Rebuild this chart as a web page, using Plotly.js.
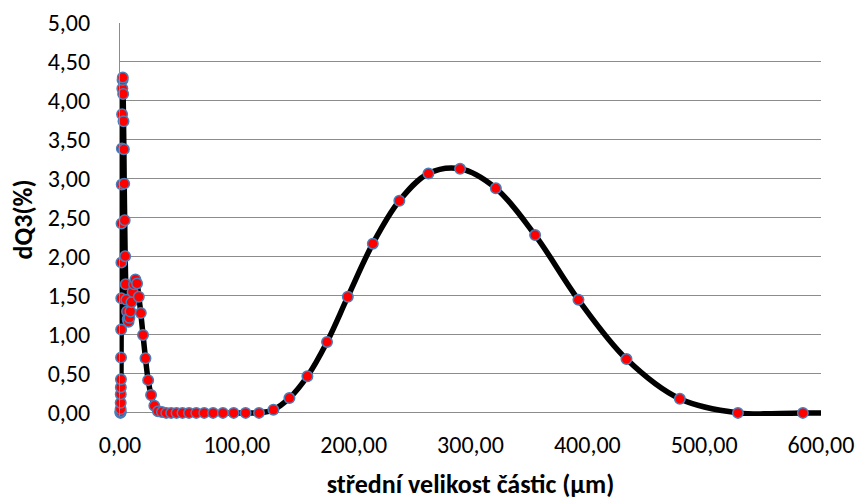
<!DOCTYPE html>
<html>
<head>
<meta charset="utf-8">
<script src="https://cdn.plot.ly/plotly-3.0.1.min.js"></script>
<style>
  html, body { margin: 0; padding: 0; background: #ffffff; }
  #chart { width: 862px; height: 504px; }
</style>
</head>
<body>
<div id="chart"></div>
<script>
// Mean particle size (µm) and differential volume fraction dQ3 (%)
const particleSize = [
  0.40, 0.44, 0.49, 0.54, 0.60, 0.66, 0.73, 0.81, 0.89, 0.99,
  1.09, 1.20, 1.33, 1.47, 1.60, 1.80,
  2.00, 2.20, 2.40, 2.70, 3.00, 3.30, 3.60,
  4.00, 4.40, 4.90, 5.40, 6.00, 6.60, 7.30, 8.00, 8.90, 9.80,
  10.8, 12.0, 13.2, 14.6, 16.1, 17.8, 19.7,
  21.8, 24.1, 26.6, 29.4, 32.5, 35.9, 39.6, 43.8, 48.4,
  53.5, 59.1, 65.3, 72.1, 79.7, 88.1, 97.3,
  107.5, 119.0, 131.3, 145.0, 160.4, 177.2, 195.0,
  216.4, 239.1, 264.0, 291.1, 321.7, 355.3, 392.4,
  433.5, 479.2, 528.9, 584.5, 646.0
];
const dQ3 = [
  0.00, 0.01, 0.02, 0.05, 0.13, 0.24, 0.33, 0.43, 0.71, 1.07,
  1.47, 1.93, 2.43, 2.93, 3.39, 3.83,
  4.16, 4.27, 4.30, 4.09, 3.74, 3.38, 2.94,
  2.47, 2.01, 1.65, 1.45, 1.30, 1.20, 1.17, 1.22, 1.30, 1.42,
  1.55, 1.65, 1.71, 1.66, 1.49, 1.28, 1.00,
  0.70, 0.42, 0.23, 0.09, 0.02, 0.01, 0.00, 0.00, 0.00,
  0.00, 0.00, 0.00, 0.00, 0.00, 0.00, 0.00,
  0.00, 0.00, 0.04, 0.19, 0.47, 0.91, 1.49,
  2.17, 2.72, 3.07, 3.13, 2.88, 2.28, 1.45,
  0.69, 0.18, 0.00, 0.00, 0.00
];

const xTickValues = [0, 100, 200, 300, 400, 500, 600];
const yTickValues = [0, 0.5, 1, 1.5, 2, 2.5, 3, 3.5, 4, 4.5, 5];

const xTitle = 'střední velikost částic (µm)';
const yTitle = 'dQ3(%)';

const X_MAX = 600;
const FONT = 'Calibri, Carlito, Lato, sans-serif';

// markers only for points inside the visible x range
const markX = [], markY = [];
particleSize.forEach((x, i) => {
  if (x <= X_MAX) { markX.push(x); markY.push(dQ3[i]); }
});

const curve = {
  x: particleSize,
  y: dQ3,
  type: 'scatter',
  mode: 'lines',
  line: { color: '#000000', width: 5.5, shape: 'spline', smoothing: 1 },
  hoverinfo: 'skip',
  showlegend: false
};

const points = {
  x: markX,
  y: markY,
  type: 'scatter',
  mode: 'markers',
  cliponaxis: false,
  marker: {
    size: 10.5,
    color: '#ff0000',
    line: { color: '#4a7ebb', width: 1.5 }
  },
  showlegend: false
};

const layout = {
  width: 862,
  height: 504,
  margin: { l: 120, r: 41, t: 23, b: 88 },
  paper_bgcolor: '#ffffff',
  plot_bgcolor: '#ffffff',
  separators: ', ',
  font: { family: FONT, size: 24, color: '#000000' },
  showlegend: false,
  xaxis: {
    range: [0, X_MAX],
    tickvals: xTickValues,
    tickformat: '.2f',
    showgrid: false,
    zeroline: false,
    showline: false,
    ticks: '',
    ticklabelstandoff: 12,
    title: { text: xTitle, font: { family: FONT, size: 26, color: '#000000', weight: 'bold' }, standoff: 16 }
  },
  yaxis: {
    range: [-0.04, 5],
    tickvals: yTickValues,
    tickformat: '.2f',
    showgrid: true,
    gridcolor: '#8c8c8c',
    gridwidth: 1,
    zeroline: false,
    showline: true,
    linecolor: '#8c8c8c',
    linewidth: 1,
    ticks: '',
    ticklabelstandoff: 24,
    title: { text: yTitle, font: { family: FONT, size: 26, color: '#000000', weight: 'bold' }, standoff: 7 }
  }
};

Plotly.newPlot('chart', [curve, points], layout, { displayModeBar: false, staticPlot: true });
</script>
</body>
</html>
